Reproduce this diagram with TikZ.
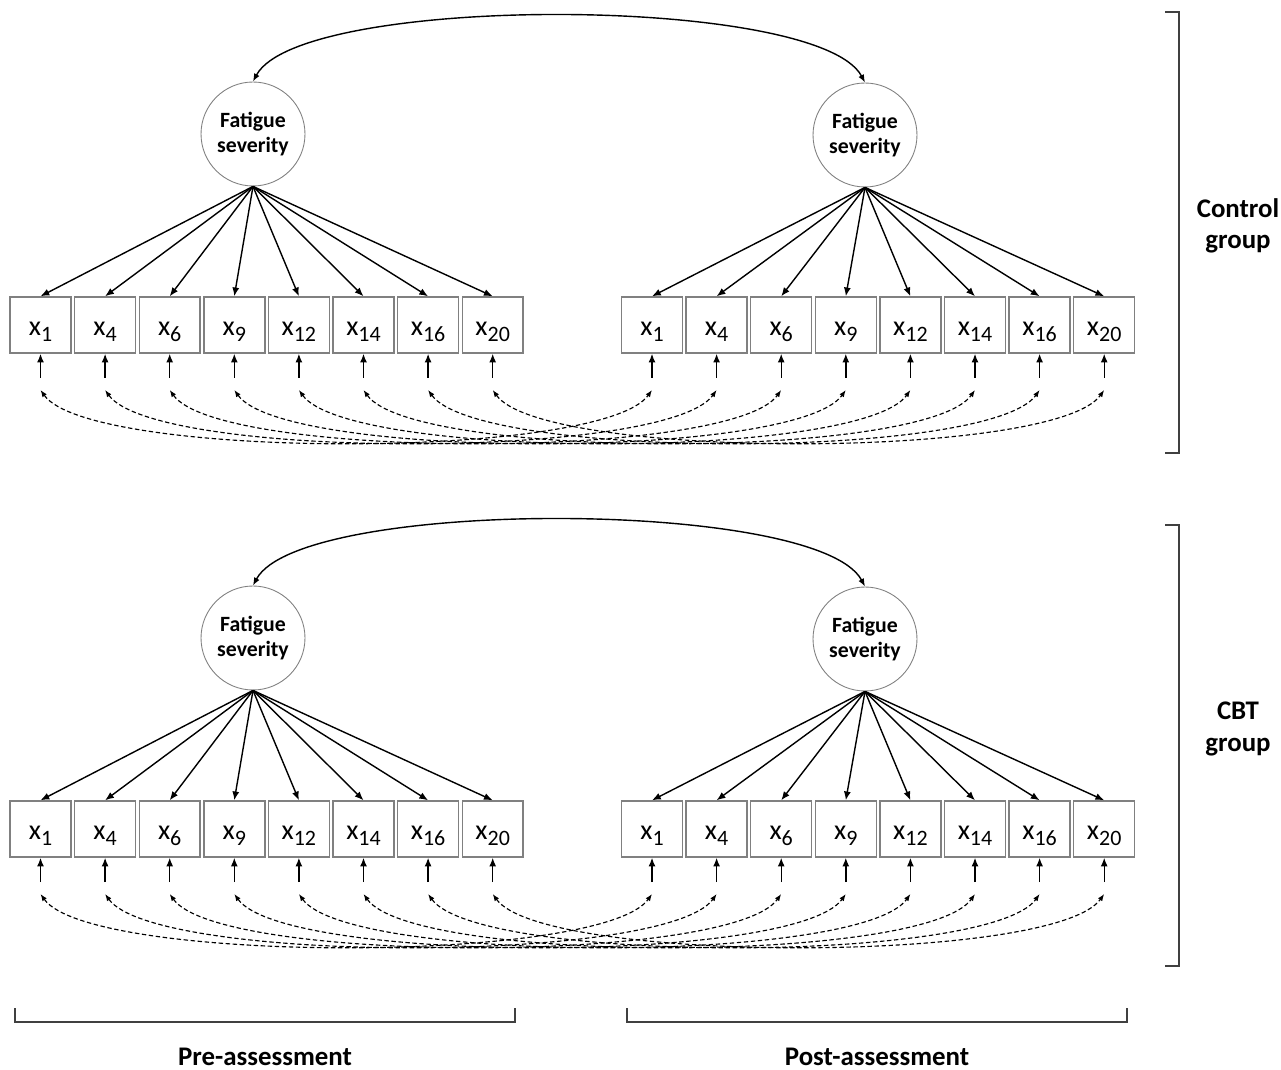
\documentclass[tikz,border=0pt]{standalone}
\usepackage{fontspec}
\setmainfont{Carlito}
\usetikzlibrary{arrows.meta}
\newcommand{\xsub}[1]{\raisebox{-5.7pt}[0pt][0pt]{\fontsize{16}{18}\selectfont x\raisebox{-3.8pt}{\fontsize{12.5}{14}\selectfont #1}}}
\begin{document}
\begin{tikzpicture}[x=0.02cm,y=-0.02cm]
\tikzstyle{latent}=[circle,draw=gray,line width=0.5pt,minimum size=2.08cm,inner sep=0pt,align=center,font=\fontsize{12.4}{14.2}\selectfont\bfseries]
\tikzstyle{item}=[rectangle,draw=gray,line width=0.8pt,minimum width=1.22cm,minimum height=1.12cm,inner sep=0pt]
\tikzstyle{load}=[-{Latex[length=5pt,width=4pt]},line width=0.8pt]
\tikzstyle{corr}=[{Latex[length=4.5pt,width=3.5pt]}-{Latex[length=4.5pt,width=3.5pt]},line width=0.8pt]
\tikzstyle{cov}=[{Latex[length=4pt,width=3pt]}-{Latex[length=4pt,width=3pt]},line width=0.65pt,dash pattern=on 2.5pt off 1.5pt]
\tikzstyle{brack}=[draw=black!75,line width=0.8pt]
\tikzstyle{label}=[align=center,font=\fontsize{15.3}{18}\selectfont\bfseries]
\useasboundingbox (0,0) rectangle (1281,1070);
\foreach \p in {0,1}
{
	\pgfmathsetmacro{\dy}{504*\p}
	\node[latent] (lat\p a) at (253,134+\dy) {Fatigue\\severity};
	\node[latent] (lat\p b) at (865,135+\dy) {Fatigue\\severity};
	\draw[corr] (lat\p a.north) .. controls +(47,-88) and +(-47,-88) .. (lat\p b.north);
	\foreach \s [count=\i] in {1,4,6,9,12,14,16,20}
	{
		\pgfmathsetmacro{\xa}{40.5+64.6*(\i-1)}
		\pgfmathsetmacro{\xb}{652+64.6*(\i-1)}
		\node[item] (box\p a\i) at (\xa,325+\dy) {\xsub{\s}};
		\node[item] (box\p b\i) at (\xb,325+\dy) {\xsub{\s}};
		\draw[load] (lat\p a.south) -- (box\p a\i.north);
		\draw[load] (lat\p b.south) -- (box\p b\i.north);
		% error terms
		\coordinate (err\p a\i) at (\xa,378+\dy);
		\coordinate (err\p b\i) at (\xb,378+\dy);
		\draw[load] (err\p a\i) -- (box\p a\i.south);
		\draw[load] (err\p b\i) -- (box\p b\i.south);
		% pre-post covariances
		\coordinate (cov\p a\i) at (\xa,390+\dy);
		\coordinate (cov\p b\i) at (\xb,390+\dy);
		\draw[cov] (cov\p a\i) .. controls +(50,70) and +(-50,70) .. (cov\p b\i);
	}
}
% group brackets
\draw[brack] (1165,12) -- (1179,12) -- (1179,453) -- (1165,453);
\draw[brack] (1165,525) -- (1179,525) -- (1179,966) -- (1165,966);
\node[label] (ctrl) at (1238,226) {Control\\group};
\node[label] (cbt) at (1238,729) {CBT\\group};
% time brackets
\draw[brack] (15,1008) -- (15,1022) -- (515,1022) -- (515,1008);
\draw[brack] (627,1008) -- (627,1022) -- (1127,1022) -- (1127,1008);
\node[label] (pre) at (265,1057) {Pre-assessment};
\node[label] (post) at (877,1057) {Post-assessment};
\end{tikzpicture}
\end{document}
